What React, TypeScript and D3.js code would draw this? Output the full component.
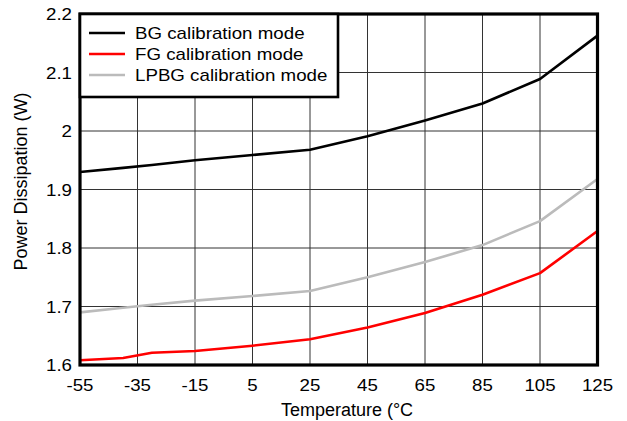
import React from "react";
import * as d3 from "d3";

// temperatures (°C) where the curves were read
const temps = [-55, -40, -30, -15, 5, 25, 45, 65, 85, 105, 125];

// power dissipation (W) for each calibration mode
const bgValues = [1.93, 1.937, 1.942, 1.95, 1.959, 1.968, 1.991, 2.018, 2.047, 2.089, 2.163];
const fgValues = [1.608, 1.612, 1.621, 1.624, 1.633, 1.644, 1.664, 1.689, 1.72, 1.757, 1.829];
const lpbgValues = [1.69, 1.698, 1.703, 1.71, 1.718, 1.7265, 1.75, 1.776, 1.805, 1.846, 1.918];

const seriesNames = ["BG calibration mode", "FG calibration mode", "LPBG calibration mode"];
const seriesColors = ["#000000", "#ff0000", "#bbbbbb"];

const xTicks = [-55, -35, -15, 5, 25, 45, 65, 85, 105, 125];
const yTicks = [1.6, 1.7, 1.8, 1.9, 2, 2.1, 2.2];

const W = 627;
const H = 421;
const margin = { top: 14, right: 29.5, bottom: 56, left: 80 };
const SX = 1.17; // tick and legend text in the reference is a bit wide
const FONT = "'Liberation Sans', Arial, Helvetica, sans-serif";

const StretchText: React.FC<{
  x: number;
  y: number;
  anchor?: string;
  size?: number;
  children: React.ReactNode;
}> = ({ x, y, anchor = "start", size = 16, children }) => (
  <g transform={`translate(${x},${y}) scale(${SX},1)`}>
    <text textAnchor={anchor} fontSize={size} fontFamily={FONT} fill="#000">
      {children}
    </text>
  </g>
);

const App: React.FC = () => {
  const x = d3
    .scaleLinear()
    .domain([-55, 125])
    .range([margin.left, W - margin.right]);
  const y = d3
    .scaleLinear()
    .domain([1.6, 2.2])
    .range([H - margin.bottom, margin.top]);

  const all = [bgValues, fgValues, lpbgValues];
  const line = d3
    .line<number>()
    .x((_, i) => x(temps[i]))
    .y(d => y(d));

  const [x0, x1] = x.range();
  const [y0, y1] = y.range();

  return (
    <svg
      width={W}
      height={H}
      style={{ position: "absolute", left: 0, top: 0, background: "#fff" }}
    >
      {/* grid */}
      {xTicks.map(t => (
        <line key={"gx" + t} x1={x(t)} x2={x(t)} y1={y1} y2={y0} stroke="#333" strokeWidth={1} />
      ))}
      {yTicks.map(t => (
        <line key={"gy" + t} x1={x0} x2={x1} y1={y(t)} y2={y(t)} stroke="#333" strokeWidth={1} />
      ))}

      {/* series */}
      {all.map((vals, i) => (
        <path
          key={seriesNames[i]}
          d={line(vals) || ""}
          fill="none"
          stroke={seriesColors[i]}
          strokeWidth={2.6}
          strokeLinejoin="round"
        />
      ))}

      {/* frame */}
      <rect x={x0} y={y1} width={x1 - x0} height={y0 - y1} fill="none" stroke="#000" strokeWidth={3.2} />

      {/* legend */}
      <rect x={x0} y={y1} width={258} height={83} fill="#fff" stroke="#000" strokeWidth={2.6} />
      {seriesNames.map((name, i) => {
        const ly = 33 + i * 21;
        return (
          <g key={"lg" + name}>
            <line x1={89} x2={125} y1={ly} y2={ly} stroke={seriesColors[i]} strokeWidth={2.6} />
            <StretchText x={135} y={ly + 6}>{name}</StretchText>
          </g>
        );
      })}

      {/* y tick labels */}
      {yTicks.map(t => (
        <StretchText key={"yl" + t} x={72} y={y(t) + 6} anchor="end">
          {d3.format("~g")(t)}
        </StretchText>
      ))}

      {/* x tick labels */}
      {xTicks.map(t => (
        <StretchText key={"xl" + t} x={x(t)} y={391} anchor="middle">
          {String(t)}
        </StretchText>
      ))}

      {/* axis titles */}
      <text x={347} y={416} textAnchor="middle" fontSize={18} fontFamily={FONT} fill="#000">
        Temperature (°C
      </text>
      <g transform="translate(27,181.5) rotate(-90)">
        <text textAnchor="middle" fontSize={18} fontFamily={FONT} fill="#000">
          Power Dissipation (W)
        </text>
      </g>
    </svg>
  );
};

export default App;
